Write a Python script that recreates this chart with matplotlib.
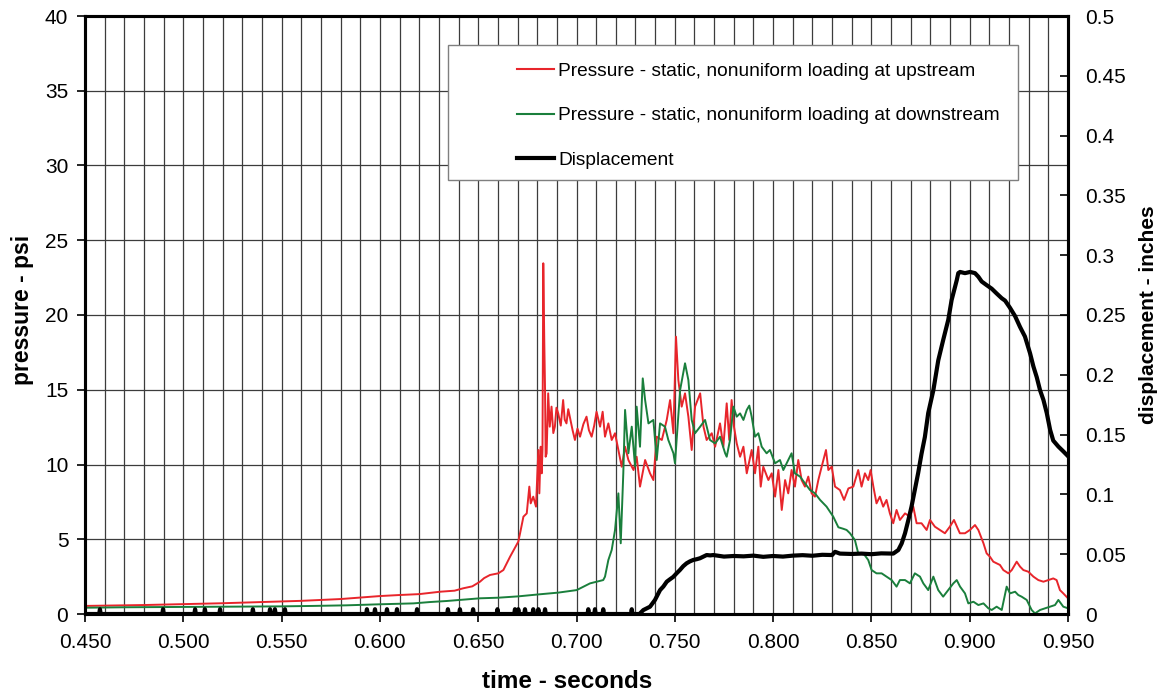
import matplotlib
matplotlib.use("Agg")
import matplotlib.pyplot as plt
from matplotlib.ticker import MultipleLocator, FormatStrFormatter, FixedLocator
from matplotlib.patches import Rectangle
from matplotlib.lines import Line2D

plt.rcParams['font.family'] = ['Liberation Sans', 'DejaVu Sans']

# ---- upstream static pressure (psi) ----
red_t = [0.4500, 0.4600, 0.4700, 0.4800, 0.4900, 0.4983, 0.5100, 0.5200, 0.5300, 0.5400,
         0.5492, 0.5600, 0.5700, 0.5800, 0.5900, 0.6000, 0.6100, 0.6200, 0.6306, 0.6380,
         0.6424, 0.6470, 0.6509, 0.6530, 0.6560, 0.6602, 0.6628, 0.6662, 0.6704, 0.6713,
         0.6730, 0.6747, 0.6760, 0.6767, 0.6780, 0.6794, 0.6806, 0.6811, 0.6818, 0.6823,
         0.6827, 0.6831, 0.6836, 0.6840, 0.6843, 0.6848, 0.6856, 0.6864, 0.6873, 0.6882,
         0.6890, 0.6898, 0.6907, 0.6920, 0.6932, 0.6940, 0.6949, 0.6958, 0.6966, 0.6980,
         0.6992, 0.7005, 0.7018, 0.7035, 0.7051, 0.7063, 0.7077, 0.7090, 0.7102, 0.7120,
         0.7133, 0.7145, 0.7162, 0.7179, 0.7196, 0.7213, 0.7230, 0.7247, 0.7264, 0.7290,
         0.7306, 0.7323, 0.7349, 0.7374, 0.7391, 0.7408, 0.7434, 0.7459, 0.7476, 0.7493,
         0.7506, 0.7518, 0.7535, 0.7552, 0.7569, 0.7586, 0.7603, 0.7629, 0.7646, 0.7662,
         0.7688, 0.7705, 0.7730, 0.7747, 0.7764, 0.7777, 0.7789, 0.7801, 0.7815, 0.7832,
         0.7849, 0.7866, 0.7891, 0.7908, 0.7925, 0.7937, 0.7950, 0.7976, 0.7993, 0.8010,
         0.8027, 0.8044, 0.8061, 0.8077, 0.8094, 0.8111, 0.8128, 0.8145, 0.8162, 0.8179,
         0.8196, 0.8213, 0.8230, 0.8247, 0.8269, 0.8281, 0.8298, 0.8315, 0.8340, 0.8361,
         0.8383, 0.8408, 0.8433, 0.8450, 0.8467, 0.8484, 0.8496, 0.8510, 0.8526, 0.8543,
         0.8560, 0.8577, 0.8594, 0.8611, 0.8628, 0.8645, 0.8671, 0.8696, 0.8713, 0.8730,
         0.8755, 0.8781, 0.8798, 0.8823, 0.8849, 0.8874, 0.8899, 0.8920, 0.8950, 0.8976,
         0.9001, 0.9027, 0.9044, 0.9070, 0.9086, 0.9103, 0.9120, 0.9137, 0.9154, 0.9171,
         0.9197, 0.9214, 0.9239, 0.9256, 0.9273, 0.9298, 0.9324, 0.9349, 0.9375, 0.9400,
         0.9425, 0.9442, 0.9459, 0.9476, 0.9500]
red_p = [0.54, 0.56, 0.58, 0.60, 0.63, 0.65, 0.69, 0.72, 0.76, 0.80,
         0.83, 0.88, 0.94, 1.00, 1.10, 1.20, 1.27, 1.33, 1.49, 1.56,
         1.72, 1.85, 2.16, 2.40, 2.61, 2.72, 2.94, 3.83, 4.84, 5.40,
         6.51, 6.73, 8.52, 7.40, 7.85, 7.18, 10.97, 8.07, 11.19, 9.41,
         11.00, 23.46, 18.33, 15.00, 10.52, 10.74, 14.76, 12.53, 13.87, 12.10,
         12.53, 13.80, 13.42, 12.60, 14.31, 13.00, 12.75, 13.70, 13.20, 12.30,
         11.64, 12.40, 11.86, 12.70, 13.20, 12.30, 11.86, 12.60, 13.53, 12.53,
         13.53, 11.86, 12.75, 11.64, 12.09, 10.97, 9.85, 11.19, 10.30, 9.63,
         10.52, 8.52, 10.30, 9.41, 8.96, 11.86, 11.64, 12.98, 14.31, 12.09,
         18.55, 15.65, 13.87, 14.76, 13.20, 10.97, 13.87, 14.76, 12.53, 11.64,
         12.09, 11.19, 12.75, 11.19, 14.09, 11.64, 14.31, 12.53, 11.41, 10.52,
         11.19, 9.41, 10.97, 9.41, 11.19, 8.52, 9.85, 8.96, 9.41, 7.85,
         9.63, 6.96, 8.96, 8.07, 9.63, 8.52, 10.30, 8.96, 8.52, 9.19,
         8.07, 7.85, 8.96, 9.85, 10.97, 9.63, 9.85, 8.52, 8.29, 7.63,
         8.40, 8.52, 9.63, 8.52, 9.41, 8.96, 9.63, 8.52, 7.40, 7.85,
         7.18, 7.63, 6.73, 6.07, 6.96, 6.29, 6.73, 6.51, 7.18, 6.07,
         6.07, 5.62, 6.29, 5.84, 5.62, 5.40, 5.84, 6.29, 5.40, 5.40,
         5.62, 5.95, 5.62, 4.73, 4.06, 3.83, 3.50, 3.39, 3.28, 2.94,
         2.72, 2.94, 3.50, 3.17, 2.94, 2.83, 2.50, 2.27, 2.16, 2.27,
         2.38, 2.27, 1.60, 1.38, 1.05]

# ---- downstream static pressure (psi) ----
green_t = [0.4500, 0.4700, 0.4983, 0.5200, 0.5492, 0.5660, 0.5830, 0.6000, 0.6170, 0.6255,
           0.6340, 0.6509, 0.6602, 0.6704, 0.6806, 0.6907, 0.7001, 0.7069, 0.7102, 0.7136,
           0.7145, 0.7162, 0.7179, 0.7196, 0.7213, 0.7225, 0.7238, 0.7247, 0.7264, 0.7281,
           0.7298, 0.7306, 0.7323, 0.7337, 0.7349, 0.7366, 0.7391, 0.7408, 0.7425, 0.7450,
           0.7467, 0.7493, 0.7501, 0.7527, 0.7552, 0.7569, 0.7586, 0.7603, 0.7629, 0.7654,
           0.7679, 0.7705, 0.7730, 0.7756, 0.7764, 0.7781, 0.7798, 0.7815, 0.7832, 0.7849,
           0.7866, 0.7879, 0.7891, 0.7908, 0.7925, 0.7942, 0.7967, 0.7984, 0.8010, 0.8035,
           0.8052, 0.8077, 0.8094, 0.8111, 0.8137, 0.8162, 0.8188, 0.8213, 0.8239, 0.8272,
           0.8306, 0.8332, 0.8357, 0.8374, 0.8391, 0.8416, 0.8433, 0.8459, 0.8484, 0.8501,
           0.8526, 0.8552, 0.8577, 0.8603, 0.8628, 0.8645, 0.8671, 0.8696, 0.8721, 0.8747,
           0.8764, 0.8789, 0.8815, 0.8840, 0.8865, 0.8891, 0.8917, 0.8934, 0.8951, 0.8976,
           0.8993, 0.9019, 0.9044, 0.9070, 0.9095, 0.9112, 0.9137, 0.9163, 0.9188, 0.9205,
           0.9231, 0.9247, 0.9264, 0.9290, 0.9315, 0.9332, 0.9358, 0.9383, 0.9409, 0.9434,
           0.9451, 0.9476, 0.9500]
green_p = [0.42, 0.45, 0.47, 0.49, 0.51, 0.54, 0.58, 0.65, 0.71, 0.80,
           0.87, 1.05, 1.09, 1.18, 1.31, 1.43, 1.60, 2.05, 2.16, 2.27,
           2.50, 3.61, 4.28, 5.62, 8.07, 4.73, 9.41, 13.65, 10.75, 12.53,
           9.85, 13.87, 11.19, 15.76, 14.31, 12.75, 12.98, 10.30, 12.75, 12.53,
           11.64, 10.75, 10.08, 14.98, 16.77, 15.65, 12.98, 12.09, 12.53, 12.98,
           11.64, 11.41, 11.86, 10.75, 10.52, 11.64, 13.87, 13.20, 13.42, 12.98,
           13.65, 13.94, 13.20, 11.86, 12.09, 11.19, 10.75, 10.97, 10.08, 10.30,
           9.63, 10.30, 10.75, 9.41, 9.19, 8.74, 8.29, 8.07, 7.63, 7.18,
           6.51, 5.80, 5.70, 5.62, 5.40, 4.95, 4.06, 4.06, 3.61, 2.94,
           2.72, 2.72, 2.50, 2.27, 1.83, 2.27, 2.27, 2.05, 2.72, 2.50,
           2.05, 1.60, 2.50, 1.60, 1.16, 1.60, 2.05, 2.27, 1.83, 1.38,
           0.71, 0.82, 0.60, 0.71, 0.38, 0.27, 0.49, 0.27, 1.83, 1.38,
           1.49, 1.27, 1.16, 0.94, 0.27, 0.04, 0.27, 0.38, 0.49, 0.60,
           0.94, 0.49, 0.38]

# ---- displacement (inches) ----
disp_t = [0.4500, 0.4572, 0.4576, 0.4580, 0.4893, 0.4897, 0.4901, 0.5056, 0.5060, 0.5064,
          0.5106, 0.5110, 0.5114, 0.5183, 0.5187, 0.5191, 0.5350, 0.5354, 0.5358, 0.5437,
          0.5441, 0.5445, 0.5462, 0.5466, 0.5470, 0.5513, 0.5517, 0.5521, 0.5930, 0.5934,
          0.5938, 0.5971, 0.5975, 0.5979, 0.6032, 0.6036, 0.6040, 0.6083, 0.6087, 0.6091,
          0.6185, 0.6189, 0.6193, 0.6342, 0.6346, 0.6350, 0.6403, 0.6407, 0.6411, 0.6470,
          0.6474, 0.6478, 0.6594, 0.6598, 0.6602, 0.6683, 0.6687, 0.6691, 0.6700, 0.6704,
          0.6708, 0.6734, 0.6738, 0.6742, 0.6776, 0.6780, 0.6784, 0.6802, 0.6806, 0.6810,
          0.6836, 0.6840, 0.6844, 0.7056, 0.7060, 0.7064, 0.7090, 0.7094, 0.7098, 0.7132,
          0.7136, 0.7140, 0.7277, 0.7281, 0.7285, 0.7320, 0.7340, 0.7374, 0.7399, 0.7425,
          0.7442, 0.7459, 0.7475, 0.7492, 0.7509, 0.7526, 0.7543, 0.7560, 0.7577, 0.7594,
          0.7611, 0.7628, 0.7645, 0.7662, 0.7680, 0.7696, 0.7750, 0.7800, 0.7850, 0.7900,
          0.7950, 0.8000, 0.8050, 0.8100, 0.8150, 0.8200, 0.8250, 0.8300, 0.8315, 0.8340,
          0.8400, 0.8450, 0.8500, 0.8550, 0.8611, 0.8637, 0.8654, 0.8671, 0.8688, 0.8704,
          0.8721, 0.8738, 0.8755, 0.8772, 0.8789, 0.8815, 0.8840, 0.8865, 0.8891, 0.8908,
          0.8934, 0.8942, 0.8951, 0.8976, 0.9002, 0.9027, 0.9044, 0.9061, 0.9086, 0.9112,
          0.9137, 0.9163, 0.9180, 0.9205, 0.9231, 0.9256, 0.9281, 0.9307, 0.9324, 0.9341,
          0.9358, 0.9375, 0.9392, 0.9409, 0.9425, 0.9451, 0.9476, 0.9500]
disp_v = [0.000, 0.000, 0.004, 0.000, 0.000, 0.004, 0.000, 0.000, 0.004, 0.000,
          0.000, 0.004, 0.000, 0.000, 0.004, 0.000, 0.000, 0.004, 0.000, 0.000,
          0.004, 0.000, 0.000, 0.004, 0.000, 0.000, 0.004, 0.000, 0.000, 0.004,
          0.000, 0.000, 0.004, 0.000, 0.000, 0.004, 0.000, 0.000, 0.004, 0.000,
          0.000, 0.004, 0.000, 0.000, 0.004, 0.000, 0.000, 0.004, 0.000, 0.000,
          0.004, 0.000, 0.000, 0.004, 0.000, 0.000, 0.004, 0.000, 0.000, 0.004,
          0.000, 0.000, 0.004, 0.000, 0.000, 0.004, 0.000, 0.000, 0.004, 0.000,
          0.000, 0.004, 0.000, 0.000, 0.004, 0.000, 0.000, 0.004, 0.000, 0.000,
          0.004, 0.000, 0.000, 0.004, 0.000, 0.000, 0.0033, 0.0061, 0.0117, 0.0200,
          0.0230, 0.0270, 0.0290, 0.0310, 0.0340, 0.0368, 0.0400, 0.0424, 0.0440, 0.0452,
          0.0458, 0.0466, 0.0480, 0.0493, 0.0490, 0.0493, 0.0480, 0.0485, 0.0482, 0.0488,
          0.0478, 0.0485, 0.0480, 0.0488, 0.0492, 0.0487, 0.0495, 0.0493, 0.0520, 0.0505,
          0.0502, 0.0505, 0.0500, 0.0507, 0.0505, 0.0535, 0.0590, 0.0675, 0.0786, 0.0897,
          0.1040, 0.1180, 0.1340, 0.1480, 0.1680, 0.1870, 0.2120, 0.2290, 0.2460, 0.2625,
          0.2790, 0.2850, 0.2860, 0.2850, 0.2860, 0.2850, 0.2820, 0.2780, 0.2750, 0.2720,
          0.2680, 0.2640, 0.2620, 0.2560, 0.2490, 0.2400, 0.2320, 0.2180, 0.2070, 0.1980,
          0.1870, 0.1790, 0.1680, 0.1540, 0.1450, 0.1400, 0.1360, 0.1320]

series_labels = ["Pressure - static, nonuniform loading at upstream",
                 "Pressure - static, nonuniform loading at downstream",
                 "Displacement"]
x_ticks = [0.45, 0.50, 0.55, 0.60, 0.65, 0.70, 0.75, 0.80, 0.85, 0.90, 0.95]
psi_ticks = [0, 5, 10, 15, 20, 25, 30, 35, 40]
disp_ticks = [0, 0.05, 0.1, 0.15, 0.2, 0.25, 0.3, 0.35, 0.4, 0.45, 0.5]

RED = "#e8252b"
GREEN = "#1a7f3c"

fig = plt.figure(figsize=(11.62, 6.94), dpi=100)
ax = fig.add_axes([85 / 1162, 1 - 614 / 694, 983 / 1162, 598 / 694])
ax2 = ax.twinx()

ax.plot(red_t, red_p, color=RED, lw=1.4, zorder=3)
ax.plot(green_t, green_p, color=GREEN, lw=1.4, zorder=3)
ax2.plot(disp_t, disp_v, color="black", lw=3.0, zorder=3, solid_joinstyle="round")

ax.set_xlim(0.45, 0.95)
ax.set_ylim(0, 40)
ax2.set_ylim(0, 0.5)

ax.xaxis.set_major_locator(FixedLocator(x_ticks))
ax.xaxis.set_major_formatter(FormatStrFormatter("%.3f"))
ax.xaxis.set_minor_locator(MultipleLocator(0.01))
ax.yaxis.set_major_locator(FixedLocator(psi_ticks))
ax2.yaxis.set_major_locator(FixedLocator(disp_ticks))
ax2.set_yticklabels(["0", "0.05", "0.1", "0.15", "0.2", "0.25", "0.3",
                     "0.35", "0.4", "0.45", "0.5"])

ax.grid(True, which="both", axis="x", color="#3c3c3c", lw=0.9)
ax.grid(True, which="major", axis="y", color="#3c3c3c", lw=0.9)
ax.set_axisbelow(True)

ax.tick_params(axis="x", which="major", direction="out", length=6, width=1.2,
               labelsize=15, pad=8)
ax.tick_params(axis="x", which="minor", length=0)
ax.tick_params(axis="y", direction="out", length=6, width=1.2, labelsize=15, pad=6)
ax2.tick_params(axis="y", direction="in", length=6, width=1.2, labelsize=15, pad=12)

for a in (ax, ax2):
    for s in a.spines.values():
        s.set_linewidth(2.2)
        s.set_color("black")

ax.set_xlabel("time - seconds", fontsize=17.5, fontweight="bold")
ax.xaxis.set_label_coords(0.49, -0.093)
ax.set_ylabel("pressure - psi", fontsize=16.5, fontweight="bold")
ax.yaxis.set_label_coords(-0.052, 0.508)
ax2.set_ylabel("displacement - inches", fontsize=15, fontweight="bold", labelpad=10)

# legend panel
box = Rectangle((0.369, 0.7258), 0.58, 0.2257, transform=ax2.transAxes,
                facecolor="white", edgecolor="#7f7f7f", lw=1.0, zorder=8)
ax2.add_patch(box)
handles = [Line2D([], [], color=RED, lw=1.5),
           Line2D([], [], color=GREEN, lw=1.5),
           Line2D([], [], color="black", lw=3.0)]
leg = ax2.legend(handles, series_labels, loc="upper left",
                 bbox_to_anchor=(0.4395, 0.9225), bbox_transform=ax2.transAxes,
                 frameon=False, fontsize=13.8, handlelength=1.95,
                 handletextpad=0.2, labelspacing=1.42, borderpad=0,
                 borderaxespad=0)
leg.set_zorder(9)

fig.savefig("out.png", dpi=100)
